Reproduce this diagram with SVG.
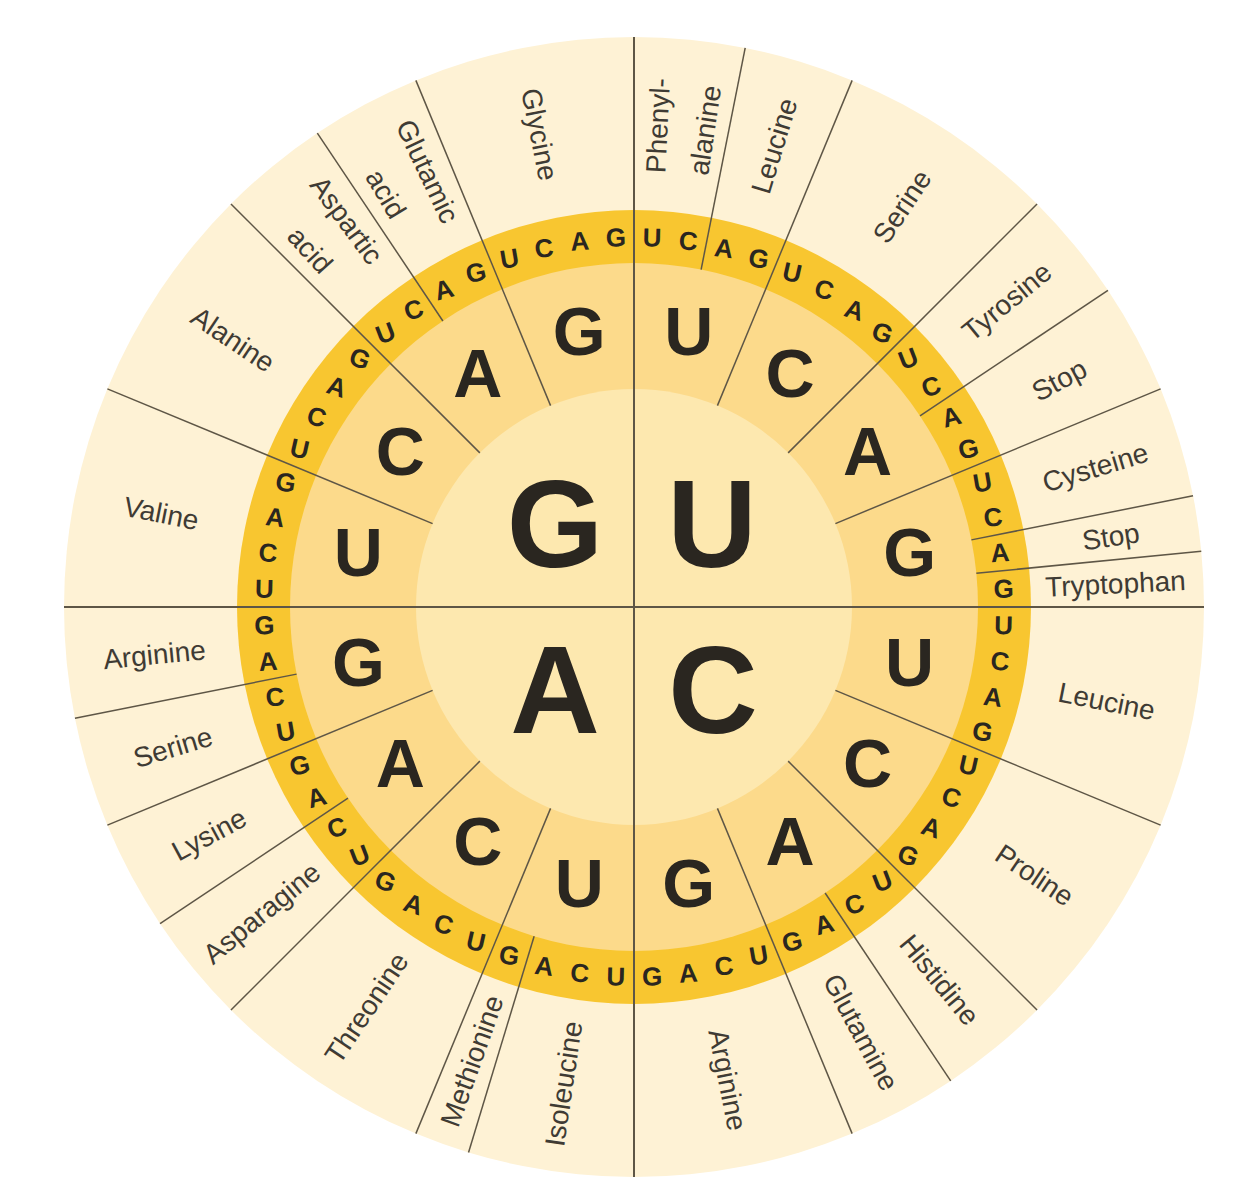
<svg xmlns="http://www.w3.org/2000/svg" width="1234" height="1200" viewBox="0 0 1234 1200">
<style>
.s{font-family:"Liberation Sans",Arial,sans-serif;font-weight:bold;font-size:26px;fill:#2a2620;text-anchor:middle}
.m{font-family:"Liberation Sans",Arial,sans-serif;font-weight:bold;font-size:68px;fill:#2a2620;text-anchor:middle}
.b{font-family:"Liberation Sans",Arial,sans-serif;font-weight:bold;font-size:124px;fill:#2a2620;text-anchor:middle}
.l{font-family:"Liberation Sans",Arial,sans-serif;font-size:28px;fill:#3f3b34;text-anchor:middle}
.ln line{stroke:#5e5646;stroke-width:1.5}
</style>
<rect width="1234" height="1200" fill="#ffffff"/>
<g id="rings">
<circle cx="634" cy="607" r="570" fill="#FEF2D5"/>
<circle cx="634" cy="607" r="397" fill="#F8C630"/>
<circle cx="634" cy="607" r="344" fill="#FCDA8B"/>
<circle cx="634" cy="607" r="218" fill="#FDE8AF"/>
</g>
<g id="connectors" class="ln" transform="translate(634 607)">
<line x1="-570" y1="0" x2="570" y2="0" style="stroke-width:2"/>
<line x1="0" y1="-570" x2="0" y2="570" style="stroke-width:2"/>
<line x1="0" y1="-218" x2="0" y2="-570" transform="rotate(22.5)"/>
<line x1="0" y1="-218" x2="0" y2="-570" transform="rotate(45)"/>
<line x1="0" y1="-218" x2="0" y2="-570" transform="rotate(67.5)"/>
<line x1="0" y1="-218" x2="0" y2="-570" transform="rotate(112.5)"/>
<line x1="0" y1="-218" x2="0" y2="-570" transform="rotate(135)"/>
<line x1="0" y1="-218" x2="0" y2="-570" transform="rotate(157.5)"/>
<line x1="0" y1="-218" x2="0" y2="-570" transform="rotate(202.5)"/>
<line x1="0" y1="-218" x2="0" y2="-570" transform="rotate(225)"/>
<line x1="0" y1="-218" x2="0" y2="-570" transform="rotate(247.5)"/>
<line x1="0" y1="-218" x2="0" y2="-570" transform="rotate(292.5)"/>
<line x1="0" y1="-218" x2="0" y2="-570" transform="rotate(315)"/>
<line x1="0" y1="-218" x2="0" y2="-570" transform="rotate(337.5)"/>
<line x1="0" y1="-344" x2="0" y2="-570" transform="rotate(11.25)"/>
<line x1="0" y1="-344" x2="0" y2="-570" transform="rotate(56.25)"/>
<line x1="0" y1="-344" x2="0" y2="-570" transform="rotate(78.75)"/>
<line x1="0" y1="-344" x2="0" y2="-570" transform="rotate(84.375)"/>
<line x1="0" y1="-344" x2="0" y2="-570" transform="rotate(146.25)"/>
<line x1="0" y1="-344" x2="0" y2="-570" transform="rotate(196.875)"/>
<line x1="0" y1="-344" x2="0" y2="-570" transform="rotate(236.25)"/>
<line x1="0" y1="-344" x2="0" y2="-570" transform="rotate(258.75)"/>
<line x1="0" y1="-344" x2="0" y2="-570" transform="rotate(326.25)"/>
</g>
<g id="first-base">
<text class="b" x="555" y="567">G</text>
<text class="b" x="712" y="567">U</text>
<text class="b" x="555" y="733">A</text>
<text class="b" x="713" y="733">C</text>
</g>
<g id="second-base" transform="translate(634 607)">
<text class="m" y="24" transform="rotate(11.25) translate(0 -281) rotate(-11.25)">U</text>
<text class="m" y="24" transform="rotate(33.75) translate(0 -281) rotate(-33.75)">C</text>
<text class="m" y="24" transform="rotate(56.25) translate(0 -281) rotate(-56.25)">A</text>
<text class="m" y="24" transform="rotate(78.75) translate(0 -281) rotate(-78.75)">G</text>
<text class="m" y="24" transform="rotate(101.25) translate(0 -281) rotate(-101.25)">U</text>
<text class="m" y="24" transform="rotate(123.75) translate(0 -281) rotate(-123.75)">C</text>
<text class="m" y="24" transform="rotate(146.25) translate(0 -281) rotate(-146.25)">A</text>
<text class="m" y="24" transform="rotate(168.75) translate(0 -281) rotate(-168.75)">G</text>
<text class="m" y="24" transform="rotate(191.25) translate(0 -281) rotate(-191.25)">U</text>
<text class="m" y="24" transform="rotate(213.75) translate(0 -281) rotate(-213.75)">C</text>
<text class="m" y="24" transform="rotate(236.25) translate(0 -281) rotate(-236.25)">A</text>
<text class="m" y="24" transform="rotate(258.75) translate(0 -281) rotate(-258.75)">G</text>
<text class="m" y="24" transform="rotate(281.25) translate(0 -281) rotate(-281.25)">U</text>
<text class="m" y="24" transform="rotate(303.75) translate(0 -281) rotate(-303.75)">C</text>
<text class="m" y="24" transform="rotate(326.25) translate(0 -281) rotate(-326.25)">A</text>
<text class="m" y="24" transform="rotate(348.75) translate(0 -281) rotate(-348.75)">G</text>
</g>
<g id="third-base" transform="translate(634 607)">
<text class="s" y="9" transform="rotate(2.8125) translate(0 -370) rotate(-2.8125) rotate(1.4)">U</text>
<text class="s" y="9" transform="rotate(8.4375) translate(0 -370) rotate(-8.4375) rotate(4.2)">C</text>
<text class="s" y="9" transform="rotate(14.0625) translate(0 -370) rotate(-14.0625) rotate(7)">A</text>
<text class="s" y="9" transform="rotate(19.6875) translate(0 -370) rotate(-19.6875) rotate(9.8)">G</text>
<text class="s" y="9" transform="rotate(25.3125) translate(0 -370) rotate(-25.3125) rotate(12.7)">U</text>
<text class="s" y="9" transform="rotate(30.9375) translate(0 -370) rotate(-30.9375) rotate(15.5)">C</text>
<text class="s" y="9" transform="rotate(36.5625) translate(0 -370) rotate(-36.5625) rotate(18.3)">A</text>
<text class="s" y="9" transform="rotate(42.1875) translate(0 -370) rotate(-42.1875) rotate(21.1)">G</text>
<text class="s" y="9" transform="rotate(47.8125) translate(0 -370) rotate(-47.8125) rotate(-21.1)">U</text>
<text class="s" y="9" transform="rotate(53.4375) translate(0 -370) rotate(-53.4375) rotate(-18.3)">C</text>
<text class="s" y="9" transform="rotate(59.0625) translate(0 -370) rotate(-59.0625) rotate(-15.5)">A</text>
<text class="s" y="9" transform="rotate(64.6875) translate(0 -370) rotate(-64.6875) rotate(-12.7)">G</text>
<text class="s" y="9" transform="rotate(70.3125) translate(0 -370) rotate(-70.3125) rotate(-9.8)">U</text>
<text class="s" y="9" transform="rotate(75.9375) translate(0 -370) rotate(-75.9375) rotate(-7)">C</text>
<text class="s" y="9" transform="rotate(81.5625) translate(0 -370) rotate(-81.5625) rotate(-4.2)">A</text>
<text class="s" y="9" transform="rotate(87.1875) translate(0 -370) rotate(-87.1875) rotate(-1.4)">G</text>
<text class="s" y="9" transform="rotate(92.8125) translate(0 -370) rotate(-92.8125) rotate(1.4)">U</text>
<text class="s" y="9" transform="rotate(98.4375) translate(0 -370) rotate(-98.4375) rotate(4.2)">C</text>
<text class="s" y="9" transform="rotate(104.0625) translate(0 -370) rotate(-104.0625) rotate(7)">A</text>
<text class="s" y="9" transform="rotate(109.6875) translate(0 -370) rotate(-109.6875) rotate(9.8)">G</text>
<text class="s" y="9" transform="rotate(115.3125) translate(0 -370) rotate(-115.3125) rotate(12.7)">U</text>
<text class="s" y="9" transform="rotate(120.9375) translate(0 -370) rotate(-120.9375) rotate(15.5)">C</text>
<text class="s" y="9" transform="rotate(126.5625) translate(0 -370) rotate(-126.5625) rotate(18.3)">A</text>
<text class="s" y="9" transform="rotate(132.1875) translate(0 -370) rotate(-132.1875) rotate(21.1)">G</text>
<text class="s" y="9" transform="rotate(137.8125) translate(0 -370) rotate(-137.8125) rotate(-21.1)">U</text>
<text class="s" y="9" transform="rotate(143.4375) translate(0 -370) rotate(-143.4375) rotate(-18.3)">C</text>
<text class="s" y="9" transform="rotate(149.0625) translate(0 -370) rotate(-149.0625) rotate(-15.5)">A</text>
<text class="s" y="9" transform="rotate(154.6875) translate(0 -370) rotate(-154.6875) rotate(-12.7)">G</text>
<text class="s" y="9" transform="rotate(160.3125) translate(0 -370) rotate(-160.3125) rotate(-9.8)">U</text>
<text class="s" y="9" transform="rotate(165.9375) translate(0 -370) rotate(-165.9375) rotate(-7)">C</text>
<text class="s" y="9" transform="rotate(171.5625) translate(0 -370) rotate(-171.5625) rotate(-4.2)">A</text>
<text class="s" y="9" transform="rotate(177.1875) translate(0 -370) rotate(-177.1875) rotate(-1.4)">G</text>
<text class="s" y="9" transform="rotate(182.8125) translate(0 -370) rotate(-182.8125) rotate(1.4)">U</text>
<text class="s" y="9" transform="rotate(188.4375) translate(0 -370) rotate(-188.4375) rotate(4.2)">C</text>
<text class="s" y="9" transform="rotate(194.0625) translate(0 -370) rotate(-194.0625) rotate(7)">A</text>
<text class="s" y="9" transform="rotate(199.6875) translate(0 -370) rotate(-199.6875) rotate(9.8)">G</text>
<text class="s" y="9" transform="rotate(205.3125) translate(0 -370) rotate(-205.3125) rotate(12.7)">U</text>
<text class="s" y="9" transform="rotate(210.9375) translate(0 -370) rotate(-210.9375) rotate(15.5)">C</text>
<text class="s" y="9" transform="rotate(216.5625) translate(0 -370) rotate(-216.5625) rotate(18.3)">A</text>
<text class="s" y="9" transform="rotate(222.1875) translate(0 -370) rotate(-222.1875) rotate(21.1)">G</text>
<text class="s" y="9" transform="rotate(227.8125) translate(0 -370) rotate(-227.8125) rotate(-21.1)">U</text>
<text class="s" y="9" transform="rotate(233.4375) translate(0 -370) rotate(-233.4375) rotate(-18.3)">C</text>
<text class="s" y="9" transform="rotate(239.0625) translate(0 -370) rotate(-239.0625) rotate(-15.5)">A</text>
<text class="s" y="9" transform="rotate(244.6875) translate(0 -370) rotate(-244.6875) rotate(-12.7)">G</text>
<text class="s" y="9" transform="rotate(250.3125) translate(0 -370) rotate(-250.3125) rotate(-9.8)">U</text>
<text class="s" y="9" transform="rotate(255.9375) translate(0 -370) rotate(-255.9375) rotate(-7)">C</text>
<text class="s" y="9" transform="rotate(261.5625) translate(0 -370) rotate(-261.5625) rotate(-4.2)">A</text>
<text class="s" y="9" transform="rotate(267.1875) translate(0 -370) rotate(-267.1875) rotate(-1.4)">G</text>
<text class="s" y="9" transform="rotate(272.8125) translate(0 -370) rotate(-272.8125) rotate(1.4)">U</text>
<text class="s" y="9" transform="rotate(278.4375) translate(0 -370) rotate(-278.4375) rotate(4.2)">C</text>
<text class="s" y="9" transform="rotate(284.0625) translate(0 -370) rotate(-284.0625) rotate(7)">A</text>
<text class="s" y="9" transform="rotate(289.6875) translate(0 -370) rotate(-289.6875) rotate(9.8)">G</text>
<text class="s" y="9" transform="rotate(295.3125) translate(0 -370) rotate(-295.3125) rotate(12.7)">U</text>
<text class="s" y="9" transform="rotate(300.9375) translate(0 -370) rotate(-300.9375) rotate(15.5)">C</text>
<text class="s" y="9" transform="rotate(306.5625) translate(0 -370) rotate(-306.5625) rotate(18.3)">A</text>
<text class="s" y="9" transform="rotate(312.1875) translate(0 -370) rotate(-312.1875) rotate(21.1)">G</text>
<text class="s" y="9" transform="rotate(317.8125) translate(0 -370) rotate(-317.8125) rotate(-21.1)">U</text>
<text class="s" y="9" transform="rotate(323.4375) translate(0 -370) rotate(-323.4375) rotate(-18.3)">C</text>
<text class="s" y="9" transform="rotate(329.0625) translate(0 -370) rotate(-329.0625) rotate(-15.5)">A</text>
<text class="s" y="9" transform="rotate(334.6875) translate(0 -370) rotate(-334.6875) rotate(-12.7)">G</text>
<text class="s" y="9" transform="rotate(340.3125) translate(0 -370) rotate(-340.3125) rotate(-9.8)">U</text>
<text class="s" y="9" transform="rotate(345.9375) translate(0 -370) rotate(-345.9375) rotate(-7)">C</text>
<text class="s" y="9" transform="rotate(351.5625) translate(0 -370) rotate(-351.5625) rotate(-4.2)">A</text>
<text class="s" y="9" transform="rotate(357.1875) translate(0 -370) rotate(-357.1875) rotate(-1.4)">G</text>
</g>
<g id="amino-acids" transform="translate(634 607)">
<text class="l" y="10" transform="rotate(2.8125) translate(0 -482) rotate(-90)">Phenyl-</text>
<text class="l" y="10" transform="rotate(8.4375) translate(0 -482) rotate(-90)">alanine</text>
<text class="l" y="10" transform="rotate(16.875) translate(0 -482) rotate(-90)">Leucine</text>
<text class="l" y="10" transform="rotate(33.75) translate(0 -482) rotate(-90)">Serine</text>
<text class="l" y="10" transform="rotate(50.625) translate(0 -482) rotate(-90)">Tyrosine</text>
<text class="l" y="10" transform="rotate(61.875) translate(0 -482) rotate(-90)">Stop</text>
<text class="l" y="10" transform="rotate(73.125) translate(0 -482) rotate(-90)">Cysteine</text>
<text class="l" y="10" transform="rotate(81.5625) translate(0 -482) rotate(-90)">Stop</text>
<text class="l" y="10" transform="rotate(87.1875) translate(0 -482) rotate(-90)">Tryptophan</text>
<text class="l" y="10" transform="rotate(101.25) translate(0 -482) rotate(-90)">Leucine</text>
<text class="l" y="10" transform="rotate(123.75) translate(0 -482) rotate(-90)">Proline</text>
<text class="l" y="10" transform="rotate(140.625) translate(0 -482) rotate(-90)">Histidine</text>
<text class="l" y="10" transform="rotate(151.875) translate(0 -482) rotate(-90)">Glutamine</text>
<text class="l" y="10" transform="rotate(168.75) translate(0 -482) rotate(-90)">Arginine</text>
<text class="l" y="10" transform="rotate(188.4375) translate(0 -482) rotate(90)">Isoleucine</text>
<text class="l" y="10" transform="rotate(199.6875) translate(0 -482) rotate(90)">Methionine</text>
<text class="l" y="10" transform="rotate(213.75) translate(0 -482) rotate(90)">Threonine</text>
<text class="l" y="10" transform="rotate(230.625) translate(0 -482) rotate(90)">Asparagine</text>
<text class="l" y="10" transform="rotate(241.875) translate(0 -482) rotate(90)">Lysine</text>
<text class="l" y="10" transform="rotate(253.125) translate(0 -482) rotate(90)">Serine</text>
<text class="l" y="10" transform="rotate(264.375) translate(0 -482) rotate(90)">Arginine</text>
<text class="l" y="10" transform="rotate(281.25) translate(0 -482) rotate(90)">Valine</text>
<text class="l" y="10" transform="rotate(303.75) translate(0 -482) rotate(90)">Alanine</text>
<text class="l" y="10" transform="rotate(317.8125) translate(0 -482) rotate(90)">acid</text>
<text class="l" y="10" transform="rotate(323.4375) translate(0 -482) rotate(90)">Aspartic</text>
<text class="l" y="10" transform="rotate(329.0625) translate(0 -482) rotate(90)">acid</text>
<text class="l" y="10" transform="rotate(334.6875) translate(0 -482) rotate(90)">Glutamic</text>
<text class="l" y="10" transform="rotate(348.75) translate(0 -482) rotate(90)">Glycine</text>
</g>
</svg>
